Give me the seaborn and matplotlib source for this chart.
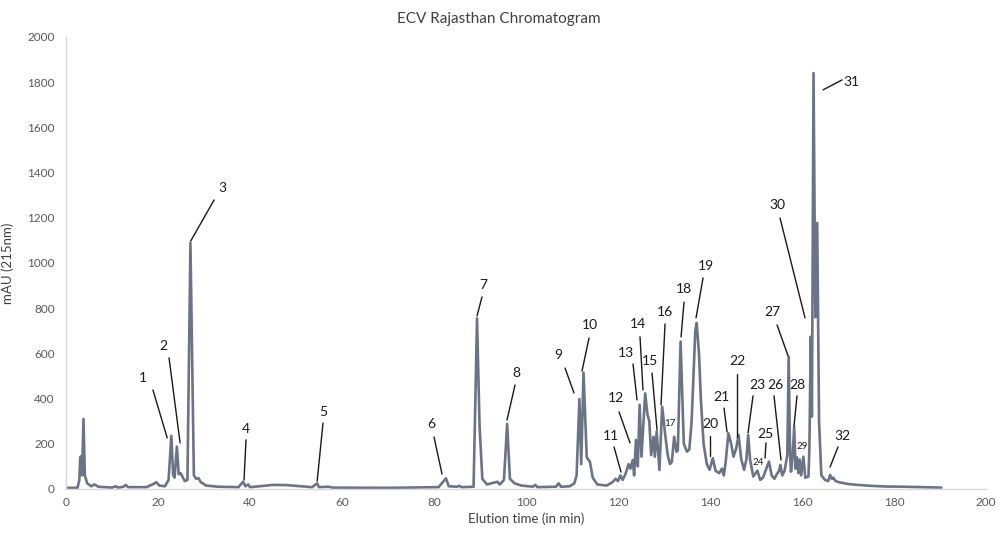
import matplotlib
matplotlib.use("Agg")
import matplotlib.pyplot as plt
import seaborn as sns
import pandas as pd

# ---- data ----
elution_time = [
    0.0, 2.5, 2.9, 3.1, 3.3, 3.5, 3.8, 4.1, 4.6, 5.5, 6.2, 7.0, 10.0, 10.8, 11.3,
    12.5, 13.0, 13.5, 17.5, 19.0, 19.6, 20.3, 21.5, 22.3, 22.9, 23.3, 23.6, 24.1,
    24.5, 24.9, 25.3, 25.8, 26.4, 27.05, 27.8, 28.3, 28.8, 29.3, 30.5, 33.0, 37.5,
    38.5, 39.0, 39.6, 40.0, 42.0, 45.0, 48.0, 51.0, 53.5, 54.6, 55.0, 57.0, 58.0,
    70.0, 81.0, 82.3, 82.6, 83.2, 85.0, 85.5, 86.0, 88.6, 88.95, 89.35, 89.9, 90.5,
    91.5, 93.0, 93.8, 94.3, 95.2, 95.9, 96.5, 97.5, 99.0, 101.5, 102.0, 102.5,
    106.5, 107.1, 107.6, 109.5, 110.5, 111.0, 111.6, 112.0, 112.5, 113.2, 113.9,
    114.5, 115.5, 117.5, 118.8, 119.5, 120.0, 120.5, 121.0, 121.6, 122.3, 122.7,
    123.2, 123.5, 123.9, 124.3, 124.7, 125.1, 125.9, 126.4, 126.8, 127.2, 127.7,
    128.0, 128.4, 129.0, 129.6, 130.2, 130.8, 131.3, 131.7, 132.2, 132.7, 133.0,
    133.6, 134.3, 135.0, 135.5, 136.0, 136.8, 137.1, 137.6, 138.0, 138.6, 139.3,
    139.9, 140.6, 141.2, 142.0, 142.6, 143.0, 143.4, 144.0, 144.6, 145.1, 145.7,
    146.2, 146.8, 147.4, 147.9, 148.3, 148.7, 149.4, 150.3, 150.9, 151.5, 152.8,
    153.4, 154.0, 154.5, 155.0, 155.3, 155.7, 156.2, 156.8, 157.1, 157.4, 157.6,
    157.9, 158.3, 158.6, 158.9, 159.2, 159.5, 159.8, 160.3, 160.7, 161.4, 161.6,
    161.9, 162.15, 162.5, 162.9, 163.3, 163.7, 164.2, 165.0, 165.7, 166.1, 166.5,
    166.8, 167.3, 168.0, 170.0, 172.0, 175.0, 178.0, 182.0, 186.0, 190.3,
]
absorbance = [
    5, 5, 40, 140, 145, 60, 310, 60, 25, 12, 20, 10, 6, 12, 6,
    10, 18, 8, 8, 22, 30, 15, 12, 40, 235, 60, 50, 187,
    65, 70, 55, 35, 40, 1090, 60, 45, 48, 30, 15, 10, 8,
    32, 12, 20, 8, 12, 18, 17, 12, 8, 25, 8, 10, 6,
    5, 8, 40, 47, 12, 10, 14, 8, 10, 350, 755, 280, 45,
    20, 28, 32, 20, 40, 288, 45, 25, 15, 10, 18, 8,
    10, 25, 10, 12, 25, 60, 398, 110, 515, 140, 120,
    50, 20, 15, 30, 45, 35, 60, 40, 65, 110, 90,
    128, 60, 217, 100, 372, 143, 423, 330, 300, 150, 231,
    143, 254, 84, 364, 250, 150, 110, 120, 231, 165, 170,
    652, 200, 165, 175, 300, 700, 735, 600, 400, 200, 110,
    85, 136, 80, 70, 90, 60, 120, 246, 200, 143, 180,
    239, 130, 85, 130, 239, 130, 55, 81, 40, 50, 121,
    60, 45, 65, 80, 106, 60, 80, 150, 585, 150, 77,
    130, 276, 90, 140, 70, 130, 60, 143, 50, 55, 180,
    674, 320, 1840, 760, 1177, 300, 60, 40, 35, 62, 45,
    50, 35, 30, 22, 18, 14, 11, 10, 8, 6,
]

peak_labels = [str(i) for i in range(1, 33)]
x_ticks = list(range(0, 201, 20))
y_ticks = list(range(0, 2001, 200))

# ---- layout of the peak annotations (text pos, leader start, leader end) ----
label_layout = {
    "1": ((16.74, 491), (18.9, 438), (22.0, 226)),
    "2": ((21.09, 633), (22.4, 580), (24.8, 204)),
    "3": ((33.9, 1332), (32.2, 1279), (27.1, 1097)),
    "4": ((39.13, 266), (39.13, 217), (38.7, 40)),
    "5": ((55.87, 341), (55.87, 292), (54.6, 35)),
    "6": ((79.35, 288), (80.0, 230), (81.74, 66)),
    "7": ((90.65, 903), (90.43, 850), (89.35, 766)),
    "8": ((97.83, 513), (97.61, 460), (95.87, 305)),
    "9": ((106.96, 593), (108.48, 535), (110.43, 425)),
    "10": ((113.91, 726), (113.7, 668), (112.17, 522)),
    "11": ((118.48, 235), (119.13, 186), (120.65, 75)),
    "12": ((119.57, 403), (120.22, 341), (122.61, 204)),
    "13": ((121.74, 602), (123.26, 553), (124.13, 394)),
    "14": ((124.35, 730), (124.78, 673), (125.43, 438)),
    "15": ((126.96, 566), (127.39, 513), (128.48, 261)),
    "16": ((130.22, 783), (130.22, 730), (129.35, 372)),
    "17": ((131.3, 288), None, None),
    "18": ((134.35, 885), (134.35, 827), (133.7, 673)),
    "19": ((139.13, 987), (138.48, 934), (136.96, 757)),
    "20": ((140.0, 288), (140.0, 235), (140.0, 146)),
    "21": ((142.39, 407), (143.04, 358), (143.7, 252)),
    "22": ((145.87, 566), (145.87, 509), (145.87, 230)),
    "23": ((150.22, 460), (149.35, 412), (148.26, 248)),
    "24": ((150.43, 115), None, None),
    "25": ((151.96, 243), (152.17, 204), (151.96, 137)),
    "26": ((154.13, 460), (153.91, 412), (155.43, 128)),
    "27": ((153.48, 783), (154.57, 726), (156.96, 589)),
    "28": ((158.91, 460), (158.91, 412), (158.26, 279)),
    "29": ((160.0, 190), None, None),
    "30": ((154.57, 1257), (155.22, 1199), (160.65, 757)),
    "31": ((170.65, 1801), (168.7, 1810), (164.57, 1766)),
    "32": ((168.7, 235), (167.83, 186), (166.09, 97)),
}
small_labels = {"17", "24", "29"}

df = pd.DataFrame({"time": elution_time, "mAU": absorbance})

sns.set_style("white")
plt.rcParams["font.family"] = ["Lato", "DejaVu Sans"]

fig = plt.figure(figsize=(9.97, 5.33), dpi=100)
ax = fig.add_axes([0.0662, 0.0826, 0.9228, 0.848])

line_color = "#6b7387"
sns.lineplot(data=df, x="time", y="mAU", ax=ax, color=line_color, lw=1.9,
             sort=False, estimator=None)

ax.set_xlim(0, 200)
ax.set_ylim(0, 2000)
ax.set_xticks(x_ticks)
ax.set_yticks(y_ticks)
ax.tick_params(axis="both", length=0, labelsize=8.5, colors="#595959")
ax.tick_params(axis="y", pad=8)
ax.tick_params(axis="x", pad=6)
for side in ("top", "right"):
    ax.spines[side].set_visible(False)
for side in ("left", "bottom"):
    ax.spines[side].set_color("#d9d9d9")
    ax.spines[side].set_linewidth(1.0)

ax.set_xlabel("Elution time (in min)", fontsize=9.5, color="#404040", labelpad=3)
ax.set_ylabel("mAU (215nm)", fontsize=9.5, color="#404040", labelpad=10)
fig.text(0.5, 0.965, "ECV Rajasthan Chromatogram", ha="center", va="center",
         fontsize=11, color="#404040")

for lab in peak_labels:
    (tx, ty), start, end = label_layout[lab]
    fs = 7 if lab in small_labels else 10
    ax.text(tx, ty, lab, ha="center", va="center", fontsize=fs, color="#1a1a1a")
    if start is not None:
        ax.plot([start[0], end[0]], [start[1], end[1]], color="#1a1a1a", lw=1.0)

fig.savefig("out.png", dpi=100)
